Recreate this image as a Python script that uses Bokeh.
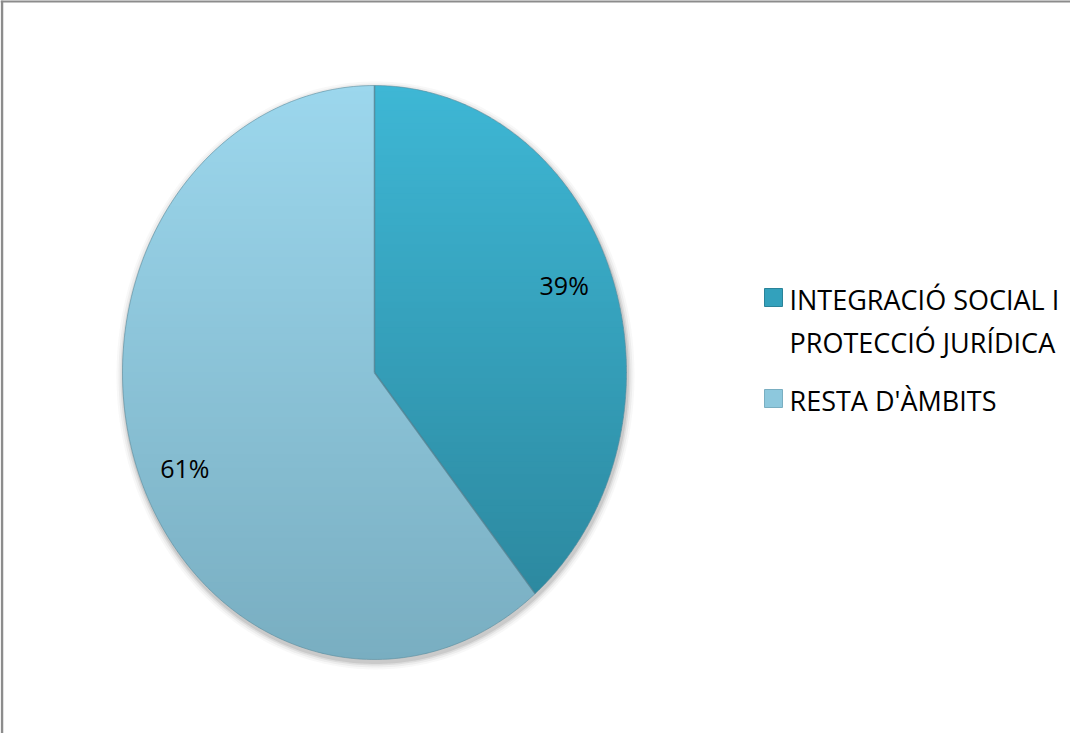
import numpy as np
from bokeh.plotting import figure
from bokeh.models import Range1d
from bokeh.core.properties import value
from bokeh.embed import file_html
from bokeh.resources import INLINE

# Data
categories = ["INTEGRACIÓ SOCIAL I\nPROTECCIÓ JURÍDICA", "RESTA D'ÀMBITS"]
values = [39, 61]
pct_labels = ["39%", "61%"]
top_colors = ["#3EB7D5", "#9CD7ED"]
bottom_colors = ["#2A8399", "#79AEC1"]
legend_colors = ["#33A1BC", "#8DC8DD"]

W, H = 1070, 733
FONT = "Open Sans"

p = figure(width=W, height=H, output_backend="svg", toolbar_location=None,
           x_range=Range1d(0, W), y_range=Range1d(H, 0), min_border=0)
p.axis.visible = False
p.grid.visible = False
p.outline_line_color = None
p.background_fill_color = "white"
p.border_fill_color = "white"

# frame border (top and left visible in reference)
p.line([1.5, 1.5], [0, H], line_color="#8C8C8C", line_width=2.5)
p.line([0, W], [0.8, 0.8], line_color="#8C8C8C", line_width=2.5)

cx, cy, rx, ry = 374, 372, 252, 287
total = float(sum(values))
fracs = np.array(values) / total
starts = np.concatenate([[0], np.cumsum(fracs)[:-1]]) * 2 * np.pi
ends = np.cumsum(fracs) * 2 * np.pi

# soft shadow
tt = np.linspace(0, 2 * np.pi, 300)
for k, a in [(7, 0.04), (5, 0.06), (3, 0.09), (1.5, 0.12)]:
    p.patch(cx + (rx + k) * np.sin(tt) + 1, cy - (ry + k) * np.cos(tt) + 3,
            fill_color="#404040", fill_alpha=a, line_color=None)


def clip(poly, yv, keep_above):
    # Sutherland-Hodgman against horizontal line y=yv
    out = []
    n = len(poly)
    for i in range(n):
        a = poly[i]
        b = poly[(i + 1) % n]
        ina = (a[1] >= yv) if keep_above else (a[1] <= yv)
        inb = (b[1] >= yv) if keep_above else (b[1] <= yv)
        if ina:
            out.append(a)
        if ina != inb:
            t = (yv - a[1]) / (b[1] - a[1])
            out.append((a[0] + t * (b[0] - a[0]), yv))
    return out


def hex2rgb(h):
    return np.array([int(h[i:i + 2], 16) for i in (1, 3, 5)], dtype=float)


def rgb2hex(c):
    return "#%02x%02x%02x" % tuple(int(round(v)) for v in c)


nb = 90
edges = np.linspace(cy - ry, cy + ry, nb + 1)
bx, by, bc = [], [], []
for a0, a1, ct, cb in zip(starts, ends, top_colors, bottom_colors):
    t = np.linspace(a0, a1, 240)
    px = np.concatenate([[cx], cx + rx * np.sin(t)])
    py = np.concatenate([[cy], cy - ry * np.cos(t)])
    poly = list(zip(px, py))
    c0, c1 = hex2rgb(ct), hex2rgb(cb)
    for i in range(nb):
        y0, y1 = edges[i] - 0.6, edges[i + 1] + 0.6
        q = clip(clip(poly, y0, True), y1, False)
        if len(q) < 3:
            continue
        f = (0.5 * (edges[i] + edges[i + 1]) - (cy - ry)) / (2 * ry)
        bx.append([v[0] for v in q])
        by.append([v[1] for v in q])
        bc.append(rgb2hex(c0 + (c1 - c0) * f))
p.patches(bx, by, fill_color=bc, line_color=None)

# outer edge and radial edges
p.line(cx + rx * np.sin(tt), cy - ry * np.cos(tt), line_color="#5E8E9E",
       line_width=1, line_alpha=0.6)
for a in starts:
    p.line([cx, cx + rx * np.sin(a)], [cy, cy - ry * np.cos(a)],
           line_color="#4E7F90", line_width=1.5, line_alpha=0.8)

# percentage labels
mids = (starts + ends) / 2
lx = cx + 0.8 * rx * np.sin(mids)
ly = cy - 0.8 * ry * np.cos(mids)
ly = ly + np.array([-10, 18])
p.text(lx, ly, text=pct_labels, text_font=value(FONT), text_font_size="25px",
       text_align="center", text_baseline="middle", text_color="#000000")

# legend
leg_x = 773
leg_y = [297, 398]
p.scatter([leg_x] * 2, leg_y, marker="square", size=18, fill_color=legend_colors,
          line_color=bottom_colors, line_width=1)
line_h = 43
for yy, lab in zip(leg_y, categories):
    for j, part in enumerate(lab.split("\n")):
        p.text([789], [yy + 2 + j * line_h], text=[part], text_font=value(FONT),
               text_font_size="27px", text_align="left", text_baseline="middle",
               text_color="#000000")

open("out.html", "w").write(file_html(p, INLINE))
